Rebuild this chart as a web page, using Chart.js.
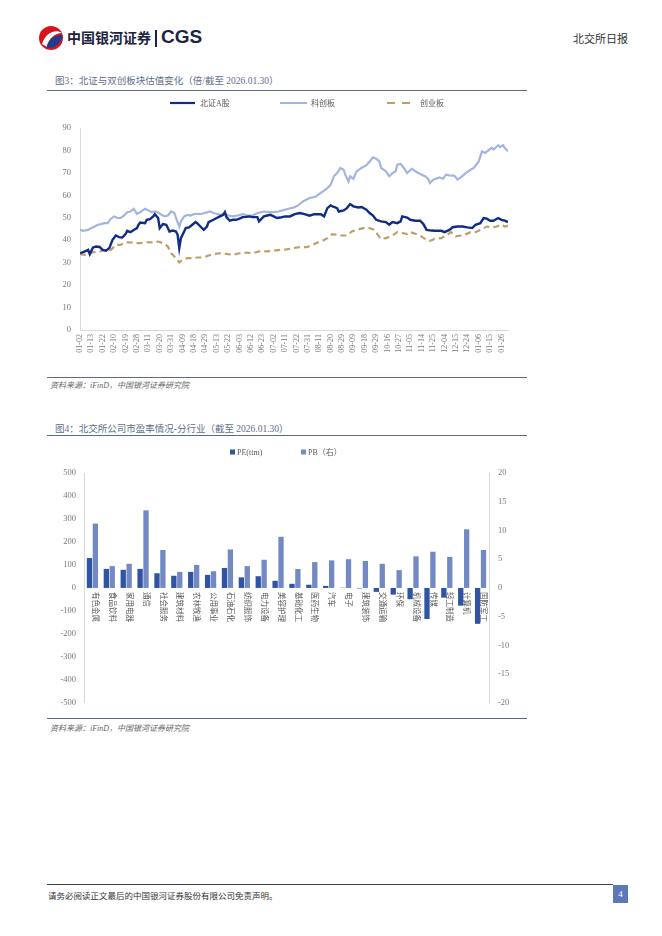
<!DOCTYPE html>
<html>
<head>
<meta charset="utf-8">
<script src="https://cdn.jsdelivr.net/npm/chart.js@4.4.0/dist/chart.umd.min.js"></script>
<style>
  html, body { margin: 0; padding: 0; background: #fff; }
  body { width: 662px; height: 936px; position: relative; overflow: hidden;
         font-family: "Liberation Serif", "Noto Sans CJK SC", serif; }
  .abs { position: absolute; white-space: nowrap; }
  .title { font-size: 9.5px; color: #5f6d8c; }
  .rule { position: absolute; height: 1px; background: #5e6a86; }
  .src { font-size: 8px; color: #666; font-style: italic; }
</style>
</head>
<body>
<!-- header -->
<svg class="abs" style="left:37px;top:24px" width="28" height="28" viewBox="0 0 28 28">
  <circle cx="14" cy="14" r="12" fill="#d5161e"/>
  <path d="M5 20 C 9 8, 19 5, 25 9 C 18 9, 12 14, 10 23 Z" fill="#fff"/>
  <path d="M9.5 23.5 C 11 15, 17 11.5, 25.5 11 C 25 18.5, 17.5 25.5, 9.5 23.5 Z" fill="#1d3c8f"/>
</svg>
<div class="abs" style="left:67px;top:27px;font-family:'Noto Sans CJK SC';font-weight:bold;font-size:14px;color:#1b2540;">中国银河证券</div>
<div class="abs" style="left:155px;top:30px;width:1.5px;height:17px;background:#1b2540;"></div>
<div class="abs" style="left:161px;top:26px;font-family:'Liberation Sans';font-weight:bold;font-size:19px;color:#1b2540;">CGS</div>
<div class="abs" style="left:573px;top:30px;font-family:'Noto Sans CJK SC';font-size:11px;color:#333;">北交所日报</div>

<!-- figure 3 -->
<div class="abs title" style="left:55px;top:73px;">图3：北证与双创板块估值变化（倍/截至 2026.01.30）</div>
<div class="rule" style="left:47px;top:90px;width:480px;"></div>
<canvas id="c1" class="abs" style="left:48px;top:93px;" width="479" height="284"></canvas>
<div class="rule" style="left:47px;top:377px;width:480px;"></div>
<div class="abs src" style="left:50px;top:379px;">资料来源：iFinD，中国银河证券研究院</div>

<!-- figure 4 -->
<div class="abs title" style="left:55px;top:421px;">图4：北交所公司市盈率情况-分行业（截至 2026.01.30）</div>
<div class="rule" style="left:47px;top:435px;width:480px;"></div>
<canvas id="c2" class="abs" style="left:48px;top:440px;" width="479" height="277"></canvas>
<div class="rule" style="left:47px;top:718px;width:480px;"></div>
<div class="abs src" style="left:50px;top:722px;">资料来源：iFinD，中国银河证券研究院</div>

<!-- footer -->
<div class="abs" style="left:47px;top:884px;width:566px;height:1px;background:#444;"></div>
<div class="abs" style="left:48px;top:889px;font-family:'Noto Sans CJK SC';font-size:8.5px;color:#333;">请务必阅读正文最后的中国银河证券股份有限公司免责声明。</div>
<div class="abs" style="left:613px;top:885px;width:15px;height:18px;background:#5b79b9;color:#fff;font-size:9px;text-align:center;line-height:18px;">4</div>

<script>
// ---------- data: figure 3 ----------
const dateLabels = ['01-02','01-13','01-22','02-10','02-19','02-28','03-11','03-20','03-31','04-09','04-18','04-29','05-13','05-22','06-03','06-12','06-23','07-02','07-11','07-22','07-31','08-11','08-20','08-29','09-09','09-18','09-29','10-16','10-27','11-05','11-14','11-25','12-04','12-15','12-24','01-06','01-15','01-26'];
const seriesNames = ['北证A股', '科创板', '创业板'];

const bzIdx = [0,2,5,6,8,10,12,14,16,18,20,22,24,26,28,29,31,33,35,36,37,40,41,43,45,46,48,49,51,53,55,57,59,60,61,62,64,65,67,69,71,72,74,76,78,79,82,84,86,88,89,90,92,94,96,98,100,102,104,106,109,110,113,115,117,119,121,123,126,129,132,135,138,141,144,148,150,152,154,156,158,159,162,164,166,168,171,173,176,178,180,182,185,188,190,192,195,197,198,201,203,206,209,211,213,216,218,222,224,227,229,232,235,238,241,243,246,248,250,252,254,257,259,261,263];
const bzVal = [34.2,34.7,35.7,33.8,36.8,37.2,37.0,35.7,35.3,36.5,40.2,42.1,41.4,41.2,42.7,44.2,43.6,44.6,45.4,46.9,47.9,47.6,49.1,49.4,50.6,51.6,49.9,45.4,47.2,46.9,43.9,44.3,43.9,42.4,36.5,40.9,43.9,45.4,45.7,46.9,48.1,47.6,46.1,44.6,46.1,48.1,49.1,49.9,50.6,51.3,52.5,50.3,48.7,49.1,49.1,49.6,50.3,50.4,50.6,50.3,50.3,48.4,50.6,51.0,51.3,50.6,49.9,50.1,50.6,50.6,51.6,52.1,51.6,50.9,51.6,51.6,50.6,54.3,55.5,54.8,54.3,52.8,53.3,54.3,56.1,55.1,54.6,54.8,53.6,52.1,51.0,49.1,48.4,48.1,46.9,48.1,47.6,48.4,50.6,50.1,49.1,48.7,48.7,47.2,44.6,44.3,44.2,44.2,43.6,44.6,45.8,46.1,46.1,45.7,45.4,46.9,47.6,49.9,49.6,48.7,48.7,49.9,49.1,48.7,48.1];

const kcIdx = [0,2,5,7,9,11,13,15,17,19,21,23,25,27,29,31,33,35,37,40,42,44,46,48,50,52,54,56,58,59,61,62,64,66,68,70,72,74,78,80,82,84,86,89,91,94,97,100,103,106,109,113,116,119,122,125,127,131,134,137,139,141,143,145,147,150,152,154,156,158,160,162,163,165,166,168,170,173,176,178,180,182,184,185,188,190,192,194,195,197,199,201,204,206,209,212,214,215,217,221,223,225,227,230,232,234,237,240,242,245,247,249,252,253,254,257,258,260,261,263];
const kcVal = [44.6,44.2,44.6,45.4,46.1,46.9,47.2,47.6,47.6,49.6,50.6,49.9,49.9,50.9,52.5,52.8,54.0,51.8,52.5,54.0,53.3,52.5,52.8,52.4,51.3,50.6,51.0,52.8,52.1,49.9,46.1,48.4,50.6,51.3,51.0,51.6,51.8,51.6,52.4,52.8,52.1,51.8,51.3,51.8,51.0,50.6,51.0,51.6,51.0,51.0,52.1,52.8,52.5,52.5,52.8,53.4,53.8,54.5,55.5,57.3,58.0,58.8,59.1,59.5,60.6,62.1,63.2,64.7,68.5,69.9,72.2,71.4,69.2,66.2,68.5,67.4,70.7,72.2,73.4,75.1,76.9,76.3,75.1,72.2,70.7,68.5,69.9,70.7,73.7,74.0,72.2,69.9,71.9,70.7,69.5,68.5,67.3,65.5,67.0,68.0,67.4,69.2,68.9,68.8,67.0,68.0,69.9,71.4,72.2,75.1,79.6,78.9,80.7,81.1,80.4,82.3,81.5,82.3,81.1,79.6];

const cyIdx = [0,3,8,12,16,19,22,25,28,31,34,37,41,45,48,51,54,56,59,61,63,66,69,72,76,79,82,86,90,94,98,102,106,110,115,119,123,127,131,135,139,142,145,149,152,155,158,161,164,167,170,174,178,181,183,185,188,192,195,198,201,203,206,209,212,215,218,222,225,228,231,234,237,240,243,246,250,253,256,259,261,263];
const cyVal = [33.8,33.5,34.7,35.0,35.7,35.7,37.9,37.9,39.0,39.1,38.7,38.7,39.1,39.0,39.4,38.7,37.2,34.2,32.0,30.1,31.3,32.0,32.0,32.3,32.3,33.2,33.8,34.2,33.9,33.5,34.2,34.5,34.2,35.0,35.0,35.3,35.7,35.9,36.5,36.9,36.9,37.5,38.7,39.7,40.9,42.7,42.4,42.1,42.1,43.9,44.6,45.4,45.4,44.6,42.4,40.6,40.9,42.1,43.6,43.2,42.7,43.6,42.9,42.0,40.6,39.7,40.6,40.9,42.1,43.6,41.7,42.1,42.7,43.6,43.6,44.6,46.1,45.7,46.1,46.9,46.1,46.4];

// ---------- data: figure 4 ----------
const industries = ['有色金属','食品饮料','家用电器','通信','社会服务','建筑材料','农林牧渔','公用事业','石油石化','纺织服饰','电力设备','美容护理','基础化工','医药生物','汽车','电子','建筑装饰','交通运输','环保','机械设备','传媒','轻工制造','计算机','国防军工'];
const peVals = [130,83,79,83,64,53,70,57,87,46,51,31,18,14,9,1,-2,-17,-29,-49,-135,-42,-77,-156];
const pbVals = [11.2,3.8,4.2,13.5,6.6,2.8,4.0,2.9,6.7,3.8,4.9,8.9,3.3,4.5,4.8,5.0,4.7,4.2,3.1,5.5,6.3,5.4,10.2,6.6];
const barNames = ['PE(ttm)', 'PB（右）'];

// ---------- helpers ----------
const FONT = '"Liberation Serif", "Noto Sans CJK SC", serif';
Chart.defaults.font.family = FONT;
const pairs = (xs, ys) => xs.map((x, i) => ({x: x, y: ys[i]}));

const legendPlugin = {
  id: 'legendDraw',
  afterDraw(chart, args, opts) {
    const ctx = chart.ctx;
    ctx.save();
    ctx.font = opts.font;
    ctx.textBaseline = 'middle';
    ctx.textAlign = 'left';
    opts.items.forEach(it => {
      if (it.kind === 'box') {
        ctx.fillStyle = it.color;
        ctx.fillRect(it.x, opts.y - 2.5, 5, 5);
      } else {
        ctx.strokeStyle = it.color;
        ctx.lineWidth = it.width || 2;
        ctx.setLineDash(it.dash || []);
        ctx.beginPath();
        ctx.moveTo(it.x, opts.y);
        ctx.lineTo(it.x + it.len, opts.y);
        ctx.stroke();
        ctx.setLineDash([]);
      }
      ctx.fillStyle = '#595959';
      ctx.fillText(it.text, it.tx, opts.y + 0.5);
    });
    ctx.restore();
  }
};

const catLabelPlugin = {
  id: 'catLabels',
  afterDatasetsDraw(chart, args, opts) {
    if (!opts.labels) return;
    const ctx = chart.ctx;
    const xs = chart.scales.x, ys = chart.scales.y;
    const y0 = ys.getPixelForValue(0);
    ctx.save();
    ctx.font = opts.font;
    ctx.fillStyle = '#595959';
    ctx.textAlign = 'left';
    ctx.textBaseline = 'middle';
    opts.labels.forEach((lab, i) => {
      const x = xs.getPixelForValue(i) + 3.5;
      ctx.save();
      ctx.translate(x, y0 + 4);
      ctx.rotate(Math.PI / 2);
      ctx.fillText(lab, 0, 0);
      ctx.restore();
    });
    ctx.restore();
  }
};

// ---------- chart 1 ----------
new Chart(document.getElementById('c1'), {
  type: 'line',
  data: {
    datasets: [
      {label: seriesNames[0], data: pairs(bzIdx, bzVal), borderColor: '#0f2c86', borderWidth: 2.4, pointRadius: 0, tension: 0},
      {label: seriesNames[1], data: pairs(kcIdx, kcVal), borderColor: '#a3b5de', borderWidth: 2.2, pointRadius: 0, tension: 0},
      {label: seriesNames[2], data: pairs(cyIdx, cyVal), borderColor: '#bf9f68', borderWidth: 2.2, borderDash: [6, 4], pointRadius: 0, tension: 0}
    ]
  },
  options: {
    responsive: false, animation: false, devicePixelRatio: 1,
    layout: {padding: {top: 35, left: 0, right: 19, bottom: 0}},
    plugins: {
      legend: {display: false}, tooltip: {enabled: false},
      legendDraw: {
        y: 10, font: '8px ' + FONT,
        items: [
          {x: 122, len: 25, color: '#0f2c86', width: 2.2, text: seriesNames[0], tx: 152},
          {x: 232, len: 27, color: '#a3b5de', width: 2, text: seriesNames[1], tx: 263},
          {x: 339, len: 23, color: '#bf9f68', width: 2, dash: [8, 7], text: seriesNames[2], tx: 372}
        ]
      }
    },
    scales: {
      x: {
        type: 'linear', min: 0, max: 263,
        grid: {display: false, drawTicks: false},
        border: {color: '#d9d9d9'},
        afterBuildTicks: s => { s.ticks = dateLabels.map((_, i) => ({value: i * 7})); },
        ticks: {autoSkip: false, minRotation: 90, maxRotation: 90, padding: 4, color: '#7a7a7a',
                font: {size: 8}, callback: v => dateLabels[Math.round(v / 7)]},
        afterFit: s => { s.height = 47; }
      },
      y: {
        min: 0, max: 90,
        grid: {display: false, drawTicks: false},
        border: {color: '#d9d9d9'},
        ticks: {stepSize: 10, padding: 9, color: '#7a7a7a', font: {size: 8.5}},
        afterFit: s => { s.width = 32; }
      }
    }
  },
  plugins: [legendPlugin]
});

// ---------- chart 2 ----------
new Chart(document.getElementById('c2'), {
  type: 'bar',
  data: {
    labels: industries,
    datasets: [
      {label: barNames[0], data: peVals, yAxisID: 'y', backgroundColor: '#2f54a3', barPercentage: 0.9, categoryPercentage: 0.7},
      {label: barNames[1], data: pbVals, yAxisID: 'y1', backgroundColor: '#7389c4', barPercentage: 0.9, categoryPercentage: 0.7}
    ]
  },
  options: {
    responsive: false, animation: false, devicePixelRatio: 1,
    layout: {padding: {top: 33, left: 0, right: 0, bottom: 10}},
    plugins: {
      legend: {display: false}, tooltip: {enabled: false},
      legendDraw: {
        y: 12, font: '8px ' + FONT,
        items: [
          {kind: 'box', x: 182, color: '#2f54a3', text: barNames[0], tx: 189},
          {kind: 'box', x: 253, color: '#7389c4', text: barNames[1], tx: 260}
        ]
      },
      catLabels: {labels: industries, font: '7.5px "Noto Sans CJK SC"'}
    },
    scales: {
      x: {display: false},
      y: {
        position: 'left', min: -500, max: 500,
        grid: {display: false, drawTicks: false},
        border: {color: '#d9d9d9'},
        ticks: {stepSize: 100, padding: 8, color: '#7a7a7a', font: {size: 8.5}},
        afterFit: s => { s.width = 36; }
      },
      y1: {
        position: 'right', min: -20, max: 20,
        grid: {display: false, drawTicks: false},
        border: {color: '#d9d9d9'},
        ticks: {stepSize: 5, padding: 9, color: '#7a7a7a', font: {size: 8.5}},
        afterFit: s => { s.width = 38; }
      }
    }
  },
  plugins: [legendPlugin, catLabelPlugin]
});
</script>
</body>
</html>
